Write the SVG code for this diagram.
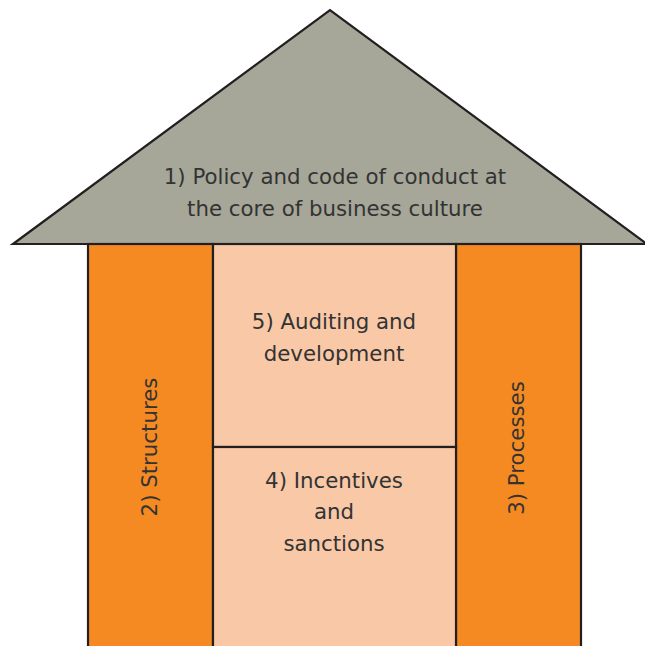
<svg xmlns="http://www.w3.org/2000/svg" width="645" height="646" viewBox="0 0 645 646">
<style>
.s{stroke:#231f20;stroke-width:2.2}
.t{font-family:"DejaVu Sans",sans-serif;font-size:21.3px;fill:#333333;text-anchor:middle}
</style>
<rect width="645" height="646" fill="#ffffff"/>
<g id="roof">
<polygon class="s" points="13,244 330,10 647,244" fill="#a6a798" stroke-linejoin="miter"/>
<text class="t" x="335" y="184">1) Policy and code of conduct at</text>
<text class="t" x="335" y="216">the core of business culture</text>
</g>
<g id="structures">
<rect class="s" x="88" y="244" width="125" height="404" fill="#f58a22"/>
<text class="t" transform="translate(157,447) rotate(-90)">2) Structures</text>
</g>
<g id="processes">
<rect class="s" x="456" y="244" width="125" height="404" fill="#f58a22"/>
<text class="t" transform="translate(524,448) rotate(-90)">3) Processes</text>
</g>
<g id="auditing">
<rect class="s" x="213" y="244" width="243" height="203" fill="#f9c8a6"/>
<text class="t" x="334" y="329">5) Auditing and</text>
<text class="t" x="334" y="361">development</text>
</g>
<g id="incentives">
<rect class="s" x="213" y="447" width="243" height="201" fill="#f9c8a6"/>
<text class="t" x="334" y="488">4) Incentives</text>
<text class="t" x="334" y="519">and</text>
<text class="t" x="334" y="551">sanctions</text>
</g>
<line class="s" x1="13" y1="244" x2="645" y2="244"/>
</svg>
